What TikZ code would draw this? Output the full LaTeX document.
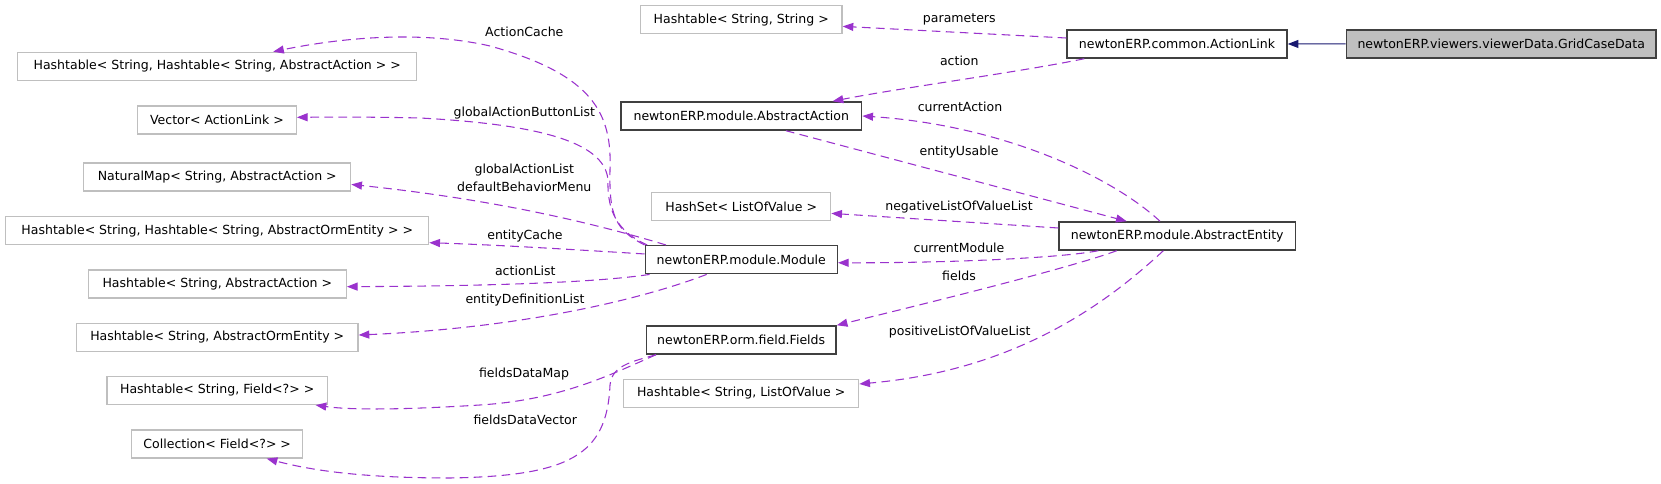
\documentclass[tikz,border=0pt]{standalone}
\usepackage{fontspec}
\setmainfont{DejaVu Sans}
\usetikzlibrary{arrows.meta}
\definecolor{extgray}{RGB}{191,191,191}
\definecolor{edgepurple}{RGB}{154,50,205}
\definecolor{navyedge}{RGB}{25,25,112}
\definecolor{gridfill}{RGB}{191,191,191}
\tikzset{
  base/.style={rectangle, inner sep=0pt, minimum height=21pt, font=\fontsize{9.4}{11}\selectfont, text=black},
  extcls/.style={base, draw=extgray, line width=0.9pt, fill=white},
  doccls/.style={base, draw=black!75, line width=1.1pt, fill=white},
  curcls/.style={base, draw=black!75, line width=1.1pt, fill=gridfill},
  uses/.style={draw=edgepurple, line width=0.8pt, dash pattern=on 6.5pt off 4pt, -{Triangle[length=8pt,width=6pt]}},
  inherit/.style={draw=navyedge, line width=0.8pt, -{Triangle[length=8pt,width=6pt]}},
  lbl/.style={inner sep=0pt, font=\fontsize{9.4}{13.5}\selectfont, align=center, text=black},
}
\begin{document}
\begin{tikzpicture}[x=0.75pt,y=-0.75pt]
\useasboundingbox (0,0) rectangle (1661,484);
% left column
\node[extcls, minimum width=299.25pt] (hthtaa) at (217.2,66.3) {Hashtable< String, Hashtable< String, AbstractAction > >};
\node[extcls, minimum width=118.95pt] (vec) at (217,120) {Vector< ActionLink >};
\node[extcls, minimum width=200.25pt] (nm) at (217.2,177) {NaturalMap< String, AbstractAction >};
\node[extcls, minimum width=317.25pt] (hthtaoe) at (217.2,230.7) {Hashtable< String, Hashtable< String, AbstractOrmEntity > >};
\node[extcls, minimum width=193.5pt] (htaa) at (217.3,284) {Hashtable< String, AbstractAction >};
\node[extcls, minimum width=211.3pt] (htaoe) at (217.2,337.3) {Hashtable< String, AbstractOrmEntity >};
\node[extcls, minimum width=165.2pt] (htf) at (217.2,390.5) {Hashtable< String, Field<?> >};
\node[extcls, minimum width=128.25pt] (coll) at (217.2,444) {Collection< Field<?> >};
% middle column
\node[extcls, minimum width=151.3pt] (htss) at (741.2,19.7) {Hashtable< String, String >};
\node[doccls, minimum width=180.5pt] (aa) at (741.3,116) {newtonERP.module.AbstractAction};
\node[extcls, minimum width=134.25pt] (hs) at (741.2,206.7) {HashSet< ListOfValue >};
\node[doccls, minimum width=144pt] (mod) at (741.3,259.7) {newtonERP.module.Module};
\node[doccls, minimum width=142.3pt] (fl) at (741.2,340) {newtonERP.orm.field.Fields};
\node[extcls, minimum width=176.25pt] (htlov) at (741.2,393.3) {Hashtable< String, ListOfValue >};
% right
\node[doccls, minimum width=165pt] (al) at (1177,44) {newtonERP.common.ActionLink};
\node[doccls, minimum width=177.2pt] (ae) at (1177.2,236) {newtonERP.module.AbstractEntity};
\node[curcls, minimum width=232.3pt] (gcd) at (1501.2,43.8) {newtonERP.viewers.viewerData.GridCaseData};

% edges
\draw[uses] ([yshift=4.5pt]al.west) -- ([yshift=-5pt]htss.east);
\draw[uses] ([xshift=13.5pt]al.south west) .. controls (1020,72) and (900,88) .. ([xshift=-22.3pt]aa.north east);
\draw[inherit] (gcd.west) -- (al.east);
\draw[uses] ([xshift=-12.9pt]ae.north) .. controls (1110,175) and (1000,125) .. (aa.east);
\draw[uses] ([xshift=33.5pt]aa.south) -- ([xshift=-37.9pt]ae.north);
\draw[uses] ([yshift=6pt]ae.west) -- ([yshift=-5pt]hs.east);
\draw[uses] ([xshift=-59.2pt]ae.south) .. controls (1060,258) and (950,263) .. ([yshift=-2.3pt]mod.east);
\draw[uses] ([xshift=-45.4pt]ae.south) .. controls (1070,268) and (920,305) .. (fl.north east);
\draw[uses] ([xshift=-10.4pt]ae.south) .. controls (1110,300) and (1020,370) .. ([yshift=7pt]htlov.east);
\draw[uses] (mod.north west) .. controls (615,230) and (609,215) .. (610,170) .. controls (612,115) and (595,75) .. (490,46) .. controls (420,30) and (340,38) .. ([xshift=42pt]hthtaa.north);
\draw[uses] ([xshift=2pt]mod.north west) .. controls (618,232) and (607,212) .. (608,180) .. controls (605,145) and (550,125) .. (420,118) .. controls (380,117) and (340,117) .. ([yshift=2pt]vec.east);
\draw[uses] ([xshift=16pt]mod.north west) .. controls (600,225) and (500,200) .. ([yshift=-5.6pt]nm.east);
\draw[uses] ([yshift=4.3pt]mod.west) .. controls (580,250) and (500,245) .. ([yshift=-9pt]hthtaoe.east);
\draw[uses] ([xshift=3.75pt]mod.south west) .. controls (600,282) and (500,286) .. ([yshift=-2pt]htaa.east);
\draw[uses] ([xshift=-26pt]mod.south) .. controls (640,300) and (520,328) .. ([yshift=1.7pt]htaoe.east);
\draw[uses] ([xshift=7.8pt]fl.south west) .. controls (610,375) and (560,400) .. (480,405) .. controls (400,410) and (350,410) .. ([xshift=-9.2pt]htf.south east);
\draw[uses] ([xshift=7.8pt]fl.south west) .. controls (630,362) and (612,366) .. (610,385) .. controls (607,455) and (570,476) .. (450,478) .. controls (360,478) and (310,470) .. ([xshift=37.1pt]coll.south);

% labels
\node[lbl] (l1) at (524.3,32.3) {ActionCache};
\node[lbl] (l2) at (524.3,113.3) {globalActionButtonList};
\node[lbl] (l3) at (524.3,177.7) {globalActionList\\defaultBehaviorMenu};
\node[lbl] (l4) at (525,235.7) {entityCache};
\node[lbl] (l5) at (525.3,270.7) {actionList};
\node[lbl] (l6) at (525,299.7) {entityDefinitionList};
\node[lbl] (l7) at (524,374.3) {fieldsDataMap};
\node[lbl] (l8) at (525.3,420.3) {fieldsDataVector};
\node[lbl] (l9) at (959.3,19.3) {parameters};
\node[lbl] (l10) at (959.3,60.7) {action};
\node[lbl] (l11) at (960,107.3) {currentAction};
\node[lbl] (l12) at (959,152.3) {entityUsable};
\node[lbl] (l13) at (959,207.3) {negativeListOfValueList};
\node[lbl] (l14) at (959,248.3) {currentModule};
\node[lbl] (l15) at (959,276.3) {fields};
\node[lbl] (l16) at (959.7,331.7) {positiveListOfValueList};
\end{tikzpicture}
\end{document}
